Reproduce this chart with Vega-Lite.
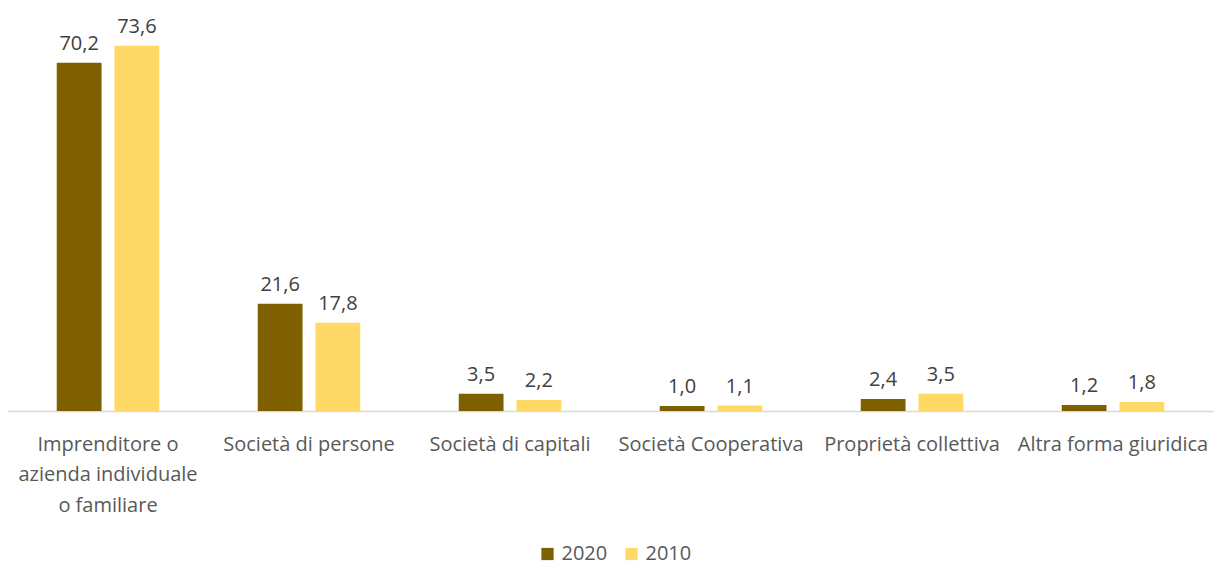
{
  "$schema": "https://vega.github.io/schema/vega-lite/v6.json",
  "width": 1206,
  "height": 397,
  "autosize": {"type": "none"},
  "padding": {"left": 7.5, "top": 14, "right": 4.5, "bottom": 154},
  "background": "white",
  "data": {
    "values": [
      {"cat": "Imprenditore o|azienda individuale|o familiare", "anno": "2020", "v": 70.2},
      {"cat": "Imprenditore o|azienda individuale|o familiare", "anno": "2010", "v": 73.6},
      {"cat": "Società di persone", "anno": "2020", "v": 21.6},
      {"cat": "Società di persone", "anno": "2010", "v": 17.8},
      {"cat": "Società di capitali", "anno": "2020", "v": 3.5},
      {"cat": "Società di capitali", "anno": "2010", "v": 2.2},
      {"cat": "Società Cooperativa", "anno": "2020", "v": 1.0},
      {"cat": "Società Cooperativa", "anno": "2010", "v": 1.1},
      {"cat": "Proprietà collettiva", "anno": "2020", "v": 2.4},
      {"cat": "Proprietà collettiva", "anno": "2010", "v": 3.5},
      {"cat": "Altra forma giuridica", "anno": "2020", "v": 1.2},
      {"cat": "Altra forma giuridica", "anno": "2010", "v": 1.8}
    ]
  },
  "encoding": {
    "x": {
      "field": "cat", "type": "nominal", "sort": null,
      "scale": {"paddingInner": 0.49, "paddingOuter": 0.245},
      "axis": {
        "title": null, "labelAngle": 0, "ticks": false,
        "domainColor": "#D9D9D9", "domainWidth": 1.5,
        "labelExpr": "split(datum.label, '|')",
        "labelFont": "Open Sans", "labelFontSize": 20, "labelColor": "#595959",
        "labelPadding": 33, "labelLineHeight": 30.5, "labelBaseline": "middle",
        "labelLimit": 0
      }
    },
    "xOffset": {"field": "anno", "type": "nominal", "sort": ["2020", "2010"], "scale": {"paddingInner": 0.224, "paddingOuter": 0}},
    "y": {"field": "v", "type": "quantitative", "scale": {"domain": [0, 80], "nice": false}, "axis": null}
  },
  "layer": [
    {
      "mark": {"type": "bar"},
      "encoding": {
        "color": {
          "field": "anno", "type": "nominal", "sort": ["2020", "2010"],
          "scale": {"domain": ["2020", "2010"], "range": ["#7F6000", "#FFD966"]},
          "legend": {
            "title": null, "orient": "none", "direction": "horizontal",
            "legendX": 530, "legendY": 530,
            "symbolType": "square", "symbolSize": 150, "symbolStrokeWidth": 0,
            "labelFont": "Open Sans", "labelFontSize": 20, "labelColor": "#595959",
            "columnPadding": 14, "labelOffset": 4, "labelLimit": 200
          }
        }
      }
    },
    {
      "mark": {"type": "text", "baseline": "bottom", "dy": -9, "font": "Open Sans", "fontSize": 20, "color": "#404040"},
      "encoding": {
        "text": {"field": "v", "type": "quantitative", "format": ".1f"}
      }
    }
  ],
  "config": {
    "view": {"stroke": null},
    "locale": {"number": {"decimal": ",", "thousands": ".", "grouping": [3], "currency": ["€", ""]}}
  }
}
